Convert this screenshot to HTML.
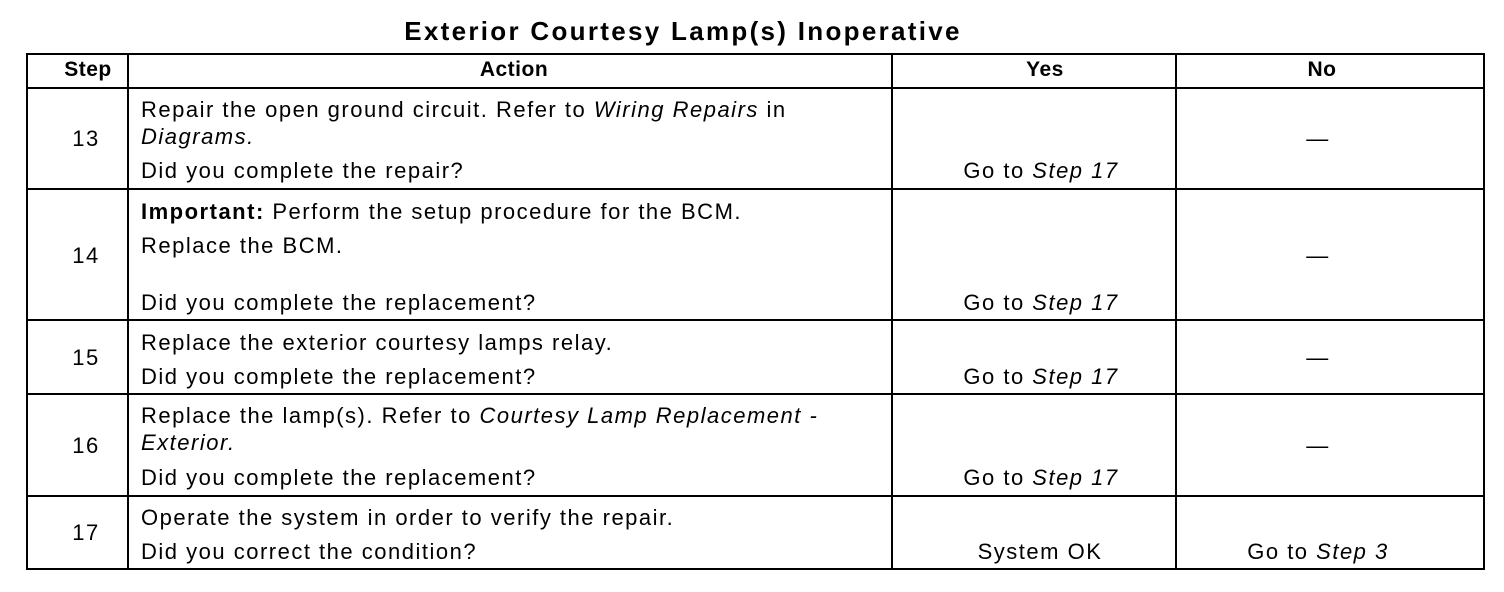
<!DOCTYPE html>
<html><head><meta charset="utf-8"><style>
body{margin:0;width:1504px;height:592px;background:#fff;position:relative;overflow:hidden;font-family:"Liberation Sans",Arial,sans-serif;color:#000}
.h{position:absolute;height:2px;background:#000}
.v{position:absolute;width:2px;background:#000}
.t{position:absolute;font-size:22px;line-height:22px;white-space:nowrap;letter-spacing:1.5px}
.c{transform:translateX(-50%)}
b{font-weight:bold}
</style></head><body>
<div class="t c" style="left:683px;top:17px;font-size:26px;line-height:28px;font-weight:bold;letter-spacing:2.3px">Exterior Courtesy Lamp(s) Inoperative</div>
<div class="h" style="left:26px;width:1459px;top:53px"></div>
<div class="h" style="left:26px;width:1459px;top:87px"></div>
<div class="h" style="left:26px;width:1459px;top:188px"></div>
<div class="h" style="left:26px;width:1459px;top:319px"></div>
<div class="h" style="left:26px;width:1459px;top:393px"></div>
<div class="h" style="left:26px;width:1459px;top:495px"></div>
<div class="h" style="left:26px;width:1459px;top:568px"></div>
<div class="v" style="left:26px;top:53px;height:517px"></div>
<div class="v" style="left:127px;top:53px;height:517px"></div>
<div class="v" style="left:891px;top:53px;height:517px"></div>
<div class="v" style="left:1175px;top:53px;height:517px"></div>
<div class="v" style="left:1483px;top:53px;height:517px"></div>

<div class="t c" style="left:88px;top:59px;font-weight:bold;font-size:21px;letter-spacing:0.5px">Step</div>
<div class="t c" style="left:514px;top:59px;font-weight:bold;font-size:21px;letter-spacing:0.5px">Action</div>
<div class="t c" style="left:1045px;top:59px;font-weight:bold;font-size:21px;letter-spacing:0.5px">Yes</div>
<div class="t c" style="left:1322px;top:59px;font-weight:bold;font-size:21px;letter-spacing:0.5px">No</div>

<div class="t c" style="left:86px;top:128px">13</div>
<div class="t" style="left:141px;top:99px">Repair the open ground circuit. Refer to <i>Wiring Repairs</i> in</div>
<div class="t" style="left:141px;top:126px"><i>Diagrams.</i></div>
<div class="t" style="left:141px;top:160px">Did you complete the repair?</div>
<div class="t c" style="left:1041px;top:160px">Go to <i>Step 17</i></div>
<div class="t c" style="left:1318px;top:128px">—</div>

<div class="t c" style="left:86px;top:245px">14</div>
<div class="t" style="left:141px;top:201px"><b>Important:</b> Perform the setup procedure for the BCM.</div>
<div class="t" style="left:141px;top:235px">Replace the BCM.</div>
<div class="t" style="left:141px;top:292px">Did you complete the replacement?</div>
<div class="t c" style="left:1041px;top:292px">Go to <i>Step 17</i></div>
<div class="t c" style="left:1318px;top:245px">—</div>

<div class="t c" style="left:86px;top:347px">15</div>
<div class="t" style="left:141px;top:332px">Replace the exterior courtesy lamps relay.</div>
<div class="t" style="left:141px;top:366px">Did you complete the replacement?</div>
<div class="t c" style="left:1041px;top:366px">Go to <i>Step 17</i></div>
<div class="t c" style="left:1318px;top:347px">—</div>

<div class="t c" style="left:86px;top:435px">16</div>
<div class="t" style="left:141px;top:405px">Replace the lamp(s). Refer to <i>Courtesy Lamp Replacement -</i></div>
<div class="t" style="left:141px;top:432px"><i>Exterior.</i></div>
<div class="t" style="left:141px;top:467px">Did you complete the replacement?</div>
<div class="t c" style="left:1041px;top:467px">Go to <i>Step 17</i></div>
<div class="t c" style="left:1318px;top:435px">—</div>

<div class="t c" style="left:86px;top:522px">17</div>
<div class="t" style="left:141px;top:507px">Operate the system in order to verify the repair.</div>
<div class="t" style="left:141px;top:541px">Did you correct the condition?</div>
<div class="t c" style="left:1040px;top:541px">System OK</div>
<div class="t c" style="left:1318px;top:541px">Go to <i>Step 3</i></div>
</body></html>
